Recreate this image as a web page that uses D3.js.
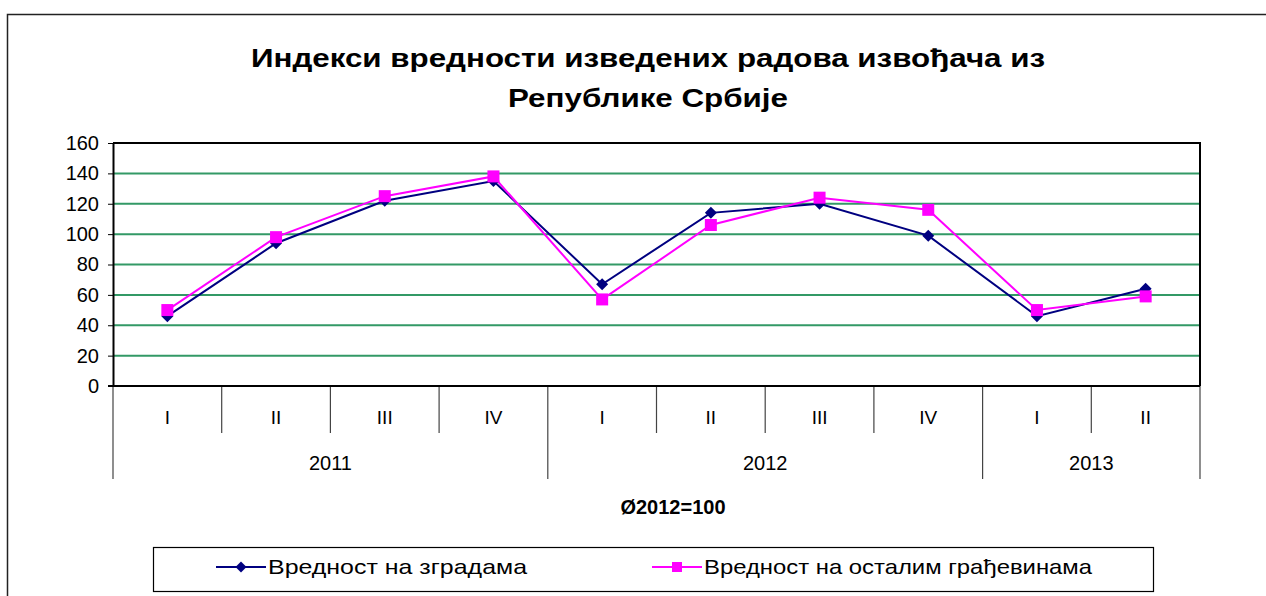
<!DOCTYPE html>
<html>
<head>
<meta charset="utf-8">
<script src="https://cdn.jsdelivr.net/npm/d3@7"></script>
<style>
  body { margin: 0; background: #fff; }
  text { font-family: Arial, "Liberation Sans", sans-serif; fill: #000; }
</style>
</head>
<body>
<div id="chart"></div>
<script>
"use strict";

// == data ==
var quarters = ["I", "II", "III", "IV", "I", "II", "III", "IV", "I", "II"];
var years = [
  { label: "2011", start: 0, end: 4 },
  { label: "2012", start: 4, end: 8 },
  { label: "2013", start: 8, end: 10 }
];
var buildings = [46, 94, 122, 135, 67, 114, 120, 99, 46, 64];
var otherWorks = [50, 98, 125, 138, 57, 106, 124, 116, 50, 59];
var yTicks = [0, 20, 40, 60, 80, 100, 120, 140, 160];
var seriesNames = ["Вредност на зградама", "Вредност на осталим грађевинама"];
var titleLines = ["Индекси вредности изведених радова извођача из", "Републике Србије"];
var baseNote = "Ø2012=100";

var visualize = function() {
  var W = 1266, H = 596;
  var plot = { left: 113, right: 1200, top: 143, bottom: 386 };

  var svg = d3.select("#chart")
              .append("svg")
              .attr("width", W)
              .attr("height", H);

  // == outer frame ==
  svg.append("rect")
     .attr("x", 7.5).attr("y", 14.5)
     .attr("width", 1300).attr("height", 700)
     .attr("fill", "none")
     .attr("stroke", "#222")
     .attr("stroke-width", 1.5);

  // == title ==
  var titleWidths = [794, 280];
  svg.append("g").selectAll("text")
     .data(titleLines)
     .enter()
     .append("text")
     .attr("x", 648)
     .attr("y", function (d, i) { return 67 + i * 40; })
     .attr("text-anchor", "middle")
     .attr("font-size", 26)
     .attr("font-weight", "bold")
     .attr("textLength", function (d, i) { return titleWidths[i]; })
     .attr("lengthAdjust", "spacingAndGlyphs")
     .text(function (d) { return d; });

  // == scales ==
  var xScale = d3.scaleBand()
                 .domain(d3.range(quarters.length))
                 .range([plot.left, plot.right])
                 .padding(0);
  var yScale = d3.scaleLinear()
                 .domain([0, 160])
                 .range([plot.bottom, plot.top]);

  // == gridlines ==
  svg.append("g").selectAll("line")
     .data(yTicks.filter(function (d) { return d > 0 && d < 160; }))
     .enter()
     .append("line")
     .attr("x1", plot.left).attr("x2", plot.right)
     .attr("y1", function (d) { return yScale(d); })
     .attr("y2", function (d) { return yScale(d); })
     .attr("stroke", "#339966")
     .attr("stroke-width", 2);

  // == plot border (top, right) ==
  svg.append("path")
     .attr("d", "M" + plot.left + "," + plot.top + "H" + plot.right + "V" + plot.bottom)
     .attr("fill", "none")
     .attr("stroke", "#000")
     .attr("stroke-width", 2);

  // == y axis ==
  var yAxis = d3.axisLeft(yScale)
                .tickValues(yTicks)
                .tickSizeInner(5)
                .tickSizeOuter(0);
  var yG = svg.append("g")
     .attr("transform", "translate(" + plot.left + ",0)")
     .call(yAxis);
  yG.select(".domain").attr("stroke", "#000").attr("stroke-width", 2);
  yG.selectAll(".tick line").attr("stroke", "#000");
  yG.selectAll(".tick text")
    .attr("x", -14)
    .attr("font-size", 20)
    .attr("font-family", "Arial, 'Liberation Sans', sans-serif")
    .attr("fill", "#000");

  // == x axis: quarter dividers ==
  var bounds = d3.range(quarters.length + 1).map(function (i) {
    return i < quarters.length ? xScale(i) : plot.right;
  });
  var groupBounds = [0].concat(years.map(function (y) { return y.end; }));

  svg.append("g").selectAll("line")
     .data(d3.range(quarters.length + 1))
     .enter()
     .append("line")
     .attr("x1", function (i) { return bounds[i]; })
     .attr("x2", function (i) { return bounds[i]; })
     .attr("y1", plot.bottom)
     .attr("y2", function (i) { return groupBounds.indexOf(i) >= 0 ? 479 : 433; })
     .attr("stroke", "#444")
     .attr("stroke-width", 1.2);

  svg.append("line")
     .attr("x1", plot.left - 5).attr("x2", plot.right)
     .attr("y1", plot.bottom).attr("y2", plot.bottom)
     .attr("stroke", "#000")
     .attr("stroke-width", 2);

  svg.append("g").selectAll("text")
     .data(quarters)
     .enter()
     .append("text")
     .attr("x", function (d, i) { return xScale(i) + xScale.bandwidth() / 2; })
     .attr("y", 424)
     .attr("text-anchor", "middle")
     .attr("font-size", 19)
     .text(function (d) { return d; });

  svg.append("g").selectAll("text")
     .data(years)
     .enter()
     .append("text")
     .attr("x", function (d) { return (bounds[d.start] + bounds[d.end]) / 2; })
     .attr("y", 470)
     .attr("text-anchor", "middle")
     .attr("font-size", 20)
     .text(function (d) { return d.label; });

  svg.append("text")
     .attr("x", 673)
     .attr("y", 514)
     .attr("text-anchor", "middle")
     .attr("font-size", 20)
     .attr("font-weight", "bold")
     .text(baseNote);

  // == series ==
  var cx = function (d, i) { return xScale(i) + xScale.bandwidth() / 2; };
  var line = d3.line()
               .x(cx)
               .y(function (d) { return yScale(d); });

  var diamond = d3.symbol().type(d3.symbolSquare).size(72);

  svg.append("path")
     .datum(buildings)
     .attr("d", line)
     .attr("fill", "none")
     .attr("stroke", "#000080")
     .attr("stroke-width", 2);

  svg.append("path")
     .datum(otherWorks)
     .attr("d", line)
     .attr("fill", "none")
     .attr("stroke", "#ff00ff")
     .attr("stroke-width", 2);

  svg.append("g").selectAll("path")
     .data(buildings)
     .enter()
     .append("path")
     .attr("d", diamond)
     .attr("transform", function (d, i) {
       return "translate(" + cx(d, i) + "," + yScale(d) + ") rotate(45)";
     })
     .attr("fill", "#000080");

  svg.append("g").selectAll("rect")
     .data(otherWorks)
     .enter()
     .append("rect")
     .attr("x", function (d, i) { return cx(d, i) - 6; })
     .attr("y", function (d) { return yScale(d) - 6; })
     .attr("width", 12)
     .attr("height", 12)
     .attr("fill", "#ff00ff");

  // == legend ==
  var legend = svg.append("g");
  legend.append("rect")
        .attr("x", 153.5).attr("y", 547.5)
        .attr("width", 1000).attr("height", 44)
        .attr("fill", "#fff")
        .attr("stroke", "#000")
        .attr("stroke-width", 1.2);

  var legendItems = [
    { name: seriesNames[0], color: "#000080", x: 216, shape: "diamond", w: 259 },
    { name: seriesNames[1], color: "#ff00ff", x: 652, shape: "square", w: 388 }
  ];
  var li = legend.selectAll(".item")
                 .data(legendItems)
                 .enter()
                 .append("g")
                 .attr("transform", function (d) { return "translate(" + d.x + ",567)"; });
  li.append("line")
    .attr("x1", 0).attr("x2", 50)
    .attr("stroke", function (d) { return d.color; })
    .attr("stroke-width", 2);
  li.append("path")
    .attr("d", function (d) {
      return d.shape === "diamond" ? d3.symbol().type(d3.symbolSquare).size(60)() : d3.symbol().type(d3.symbolSquare).size(100)();
    })
    .attr("transform", function (d) { return "translate(25,0)" + (d.shape === "diamond" ? " rotate(45)" : ""); })
    .attr("fill", function (d) { return d.color; });
  li.append("text")
    .attr("x", 52)
    .attr("y", 7)
    .attr("font-size", 21)
    .attr("textLength", function (d) { return d.w; })
    .attr("lengthAdjust", "spacingAndGlyphs")
    .text(function (d) { return d.name; });
};

visualize();
</script>
</body>
</html>
